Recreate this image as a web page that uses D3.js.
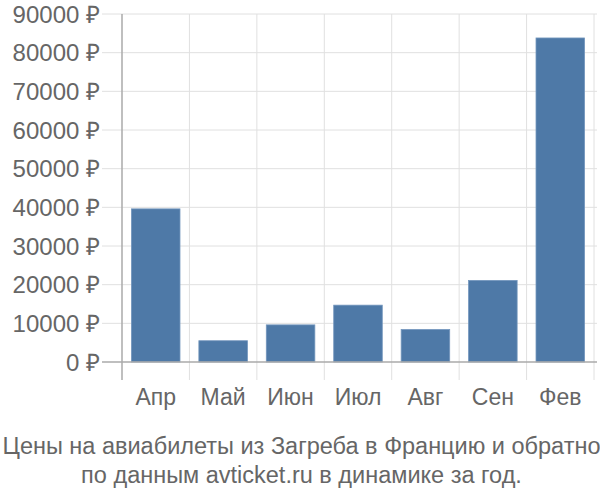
<!DOCTYPE html>
<html lang="ru">
<head>
  <meta charset="UTF-8" />
  <title>Цены на авиабилеты</title>
  <script src="https://d3js.org/d3.v7.min.js"></script>
  <style>
    body { margin: 0; background: #fff; }
    text { font-family: "Liberation Sans", Arial, sans-serif; fill: #666; }
  </style>
</head>
<body>
  <div id="chart"></div>
  <script>
    const months = ["Апр", "Май", "Июн", "Июл", "Авг", "Сен", "Фев"];
    const prices = [39600, 5500, 9600, 14700, 8400, 21100, 83800];
    const yTicks = [0, 10000, 20000, 30000, 40000, 50000, 60000, 70000, 80000, 90000];
    const titleLines = ["Цены на авиабилеты из Загреба в Францию и обратно", "по данным avticket.ru в динамике за год."];

    const width = 600, height = 500;
    const plotLeft = 122, plotRight = 594, plotTop = 14, plotBottom = 362;

    const svg = d3.select("#chart").append("svg").attr("width", width).attr("height", height);

    const x = d3.scaleBand().domain(months).range([plotLeft, plotRight]).paddingInner(0.28).paddingOuter(0.14);
    const y = d3.scaleLinear().domain([0, 90000]).range([plotBottom, plotTop]);

    // horizontal grid + ticks
    svg.append("g").selectAll("line")
      .data(yTicks.filter(d => d > 0))
      .enter().append("line")
      .attr("x1", 102).attr("x2", plotRight + 3)
      .attr("y1", d => y(d)).attr("y2", d => y(d))
      .attr("stroke", "#e0e0e0").attr("stroke-width", 1);

    // vertical grid at band boundaries
    const step = x.step();
    const bounds = months.map((m, i) => plotLeft + i * step).concat([plotRight]);
    svg.append("g").selectAll("line")
      .data(bounds.slice(1))
      .enter().append("line")
      .attr("x1", d => d).attr("x2", d => d)
      .attr("y1", plotTop).attr("y2", 380)
      .attr("stroke", "#e0e0e0").attr("stroke-width", 1);

    // bars
    svg.append("g").selectAll("rect")
      .data(prices)
      .enter().append("rect")
      .attr("x", (d, i) => x(months[i]))
      .attr("width", x.bandwidth())
      .attr("y", d => y(d))
      .attr("height", d => y(0) - y(d))
      .attr("fill", "#4e79a7")
      .attr("stroke", "#7396bd").attr("stroke-width", 0.8);

    // axis lines
    svg.append("line").attr("x1", plotLeft).attr("x2", plotLeft).attr("y1", plotTop).attr("y2", 380)
      .attr("stroke", "#aaa").attr("stroke-width", 1.5);
    svg.append("line").attr("x1", 102).attr("x2", plotRight + 3).attr("y1", y(0)).attr("y2", y(0))
      .attr("stroke", "#aaa").attr("stroke-width", 1.5);

    // y labels
    svg.append("g").selectAll("text")
      .data(yTicks)
      .enter().append("text")
      .attr("x", 100).attr("y", d => y(d))
      .attr("dy", "0.36em")
      .attr("text-anchor", "end")
      .style("font-size", "24px")
      .text(d => d + " ₽");

    // x labels
    svg.append("g").selectAll("text")
      .data(months)
      .enter().append("text")
      .attr("x", d => x(d) + x.bandwidth() / 2)
      .attr("y", 405)
      .attr("text-anchor", "middle")
      .style("font-size", "23px")
      .text(d => d);

    // title
    svg.append("g").selectAll("text")
      .data(titleLines)
      .enter().append("text")
      .attr("x", 301.5).attr("y", (d, i) => 454 + i * 29)
      .attr("text-anchor", "middle")
      .style("font-size", "23.5px")
      .text(d => d);
  </script>
</body>
</html>
